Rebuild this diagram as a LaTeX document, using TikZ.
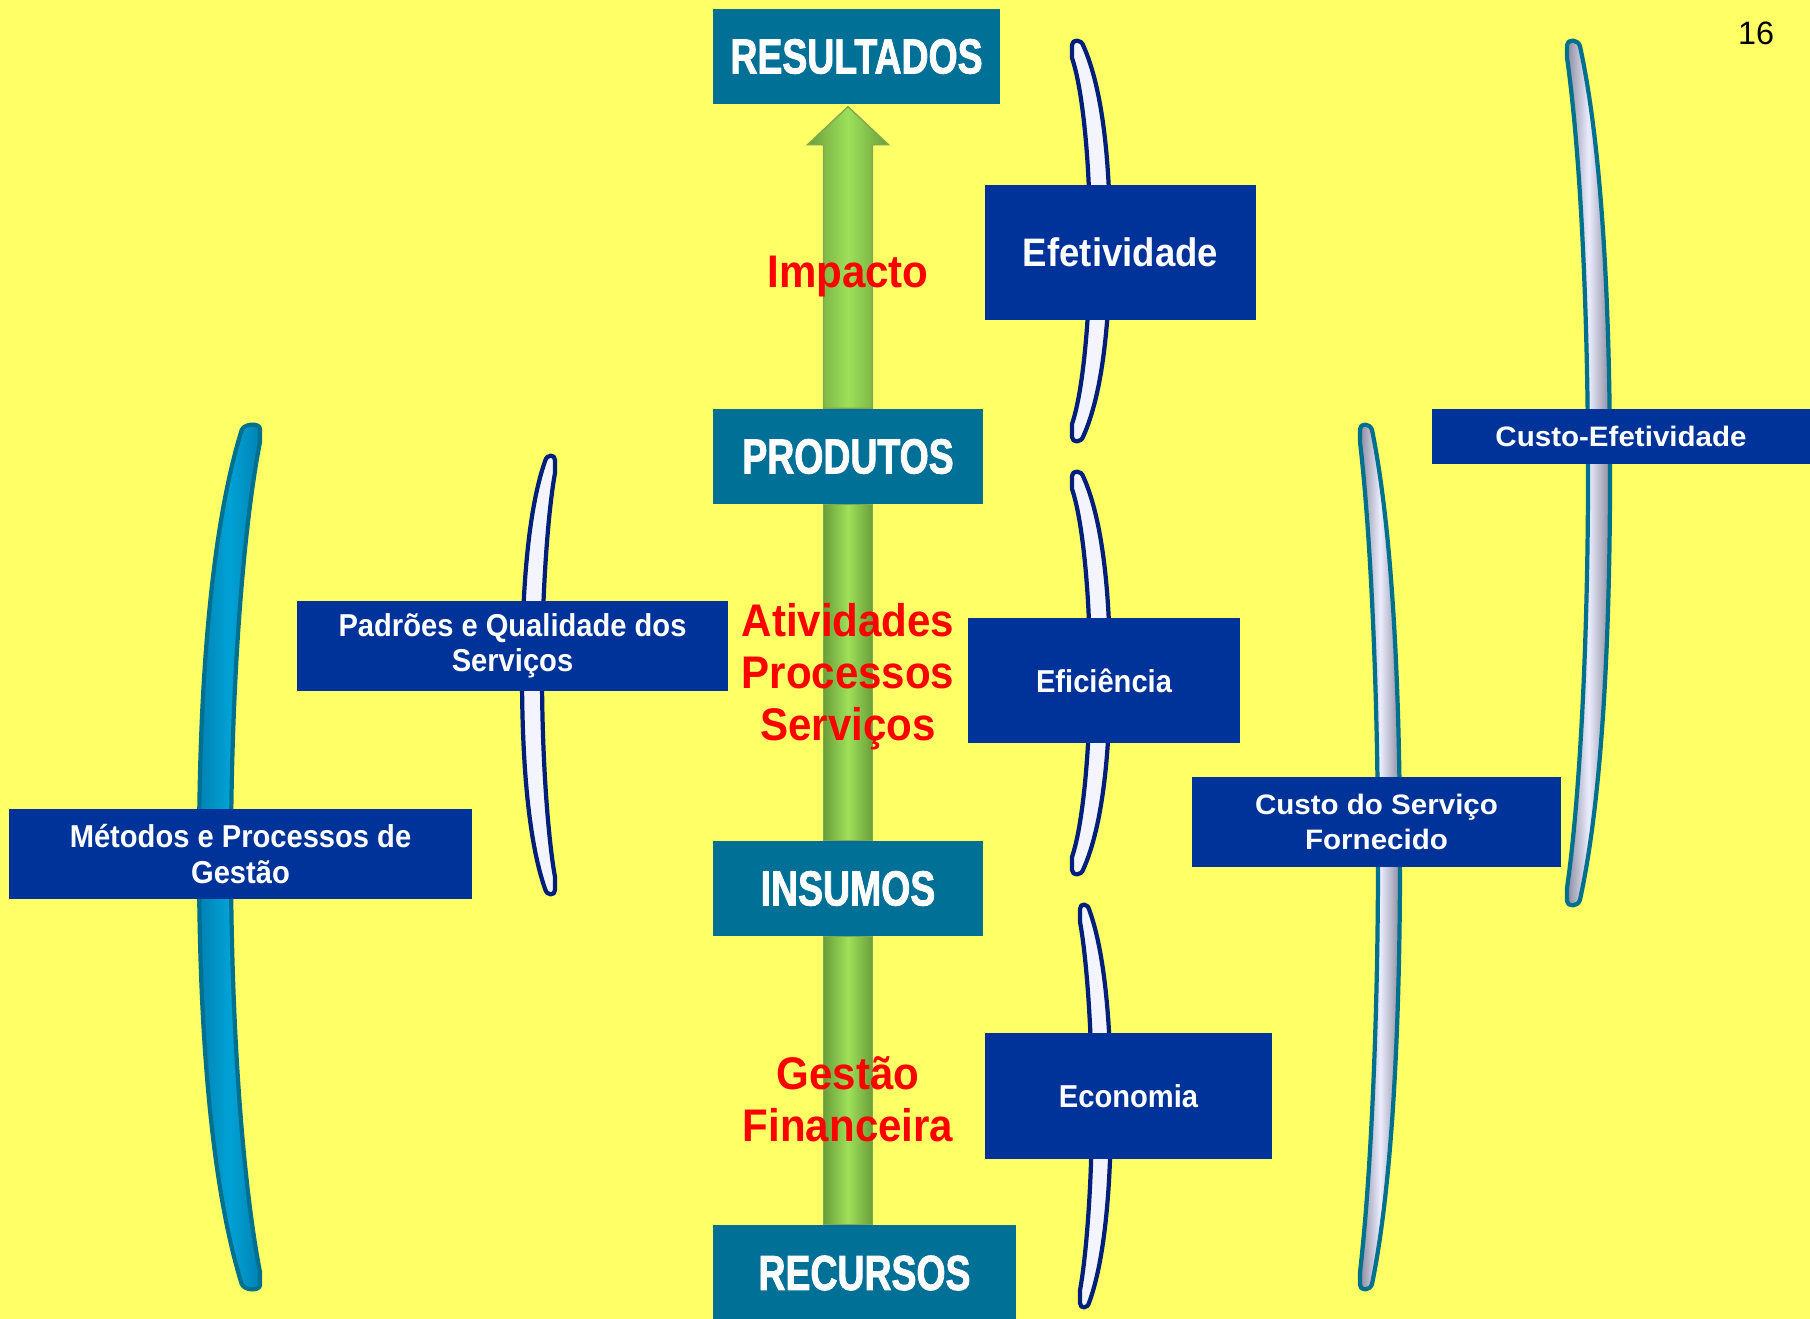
\documentclass[tikz,border=0pt]{standalone}
\usepackage{fontspec}
\setmainfont{Liberation Sans}
\newfontfamily\stagefamily[FakeStretch=0.76,FakeBold=1.6]{Liberation Sans Bold}
\newfontfamily\condfamily[FakeStretch=0.92]{Liberation Sans}
\newfontfamily\widefamily[FakeStretch=1.05]{Liberation Sans}
\usetikzlibrary{calc}
\definecolor{bgyellow}{HTML}{FFFF66}
\definecolor{stageteal}{HTML}{007096}
\definecolor{measblue}{HTML}{003399}
\definecolor{brknavy}{HTML}{001F7A}
\definecolor{brkteal}{HTML}{00708F}
\definecolor{brkfill}{HTML}{F4F4FF}
\definecolor{brkgrey}{HTML}{8C8CA0}
\definecolor{brkpale}{HTML}{ECECFF}
\definecolor{brkdeep}{HTML}{0082B4}
\definecolor{brkcyan}{HTML}{00A2D6}
\definecolor{shaftdark}{HTML}{6A9E3A}
\definecolor{shaftlight}{HTML}{9EE05A}
\definecolor{shaftedge}{HTML}{7FA850}
\tikzset{
  stage/.style={fill=stageteal,text=white,inner sep=0pt,minimum height=0.95cm,
    font=\stagefamily\fontsize{14}{16}\selectfont},
  measure/.style={fill=measblue,text=white,inner sep=0pt,align=center,
    font=\condfamily\bfseries\fontsize{9}{10}\selectfont},
  widemeasure/.style={measure,font=\widefamily\bfseries\fontsize{8}{10}\selectfont},
  flowlabel/.style={text=red,align=center,
    font=\condfamily\bfseries\fontsize{13}{14.8}\selectfont},
  shaft/.style={left color=shaftdark,right color=shaftdark,middle color=shaftlight,
    draw=shaftedge,line width=0.4pt},
  brkthin/.style={draw=brknavy,fill=brkfill,line width=1.2pt,line join=round},
  brkgray/.style={draw=brkteal,left color=brkgrey,right color=brkgrey,middle color=brkpale,
    line width=1.2pt,line join=round},
  brkblue/.style={draw=brkteal,left color=brkdeep,right color=brkdeep,middle color=brkcyan,
    line width=1.2pt,line join=round}
}
% #1 style, #2 x of the tips, #3 top, #4 bottom, #5 bulge, #6 thickness
\newcommand\crescent[6]{%
  \draw[#1] (#2,{#3+18}) -- (#2,{#3+5})
    .. controls (#2,{#3-1}) and ({#2+0.25*#5},{#3-1}) .. ({#2+0.3*#5},{#3+6})
    .. controls ({#2+0.8*#5},{#3+0.12*(#4-#3)}) and ({#2+#5},{#3+0.3*(#4-#3)}) .. ({#2+#5},{(#3+#4)/2})
    .. controls ({#2+#5},{#4-0.3*(#4-#3)}) and ({#2+0.8*#5},{#4-0.12*(#4-#3)}) .. ({#2+0.3*#5},{#4-6})
    .. controls ({#2+0.25*#5},{#4+1}) and (#2,{#4+1}) .. (#2,{#4-5})
    -- (#2,{#4-18})
    .. controls ({#2+0.8*#5-#6},{#4-0.12*(#4-#3)}) and ({#2+#5-#6},{#4-0.3*(#4-#3)}) .. ({#2+#5-#6},{(#3+#4)/2})
    .. controls ({#2+#5-#6},{#3+0.3*(#4-#3)}) and ({#2+0.8*#5-#6},{#3+0.12*(#4-#3)}) .. cycle;}
\begin{document}
\begin{tikzpicture}[x=0.01cm,y=-0.01cm]
  \fill[bgyellow] (0,0) rectangle (1810,1319);
  \useasboundingbox (0,0) rectangle (1810,1319);

  % brackets
  \crescent{brkthin}{1072}{40}{442}{38}{20}
  \crescent{brkthin}{1072}{471}{875}{38}{20}
  \crescent{brkthin}{1080}{904}{1308}{31}{19}
  \crescent{brkgray}{1360}{424}{1290}{40}{22}
  \crescent{brkgray}{1567}{40}{906}{43}{22}
  \crescent{brkthin}{555}{455}{895}{-33}{-20}
  \crescent{brkblue}{260}{424}{1290}{-61}{-32}

  % stages
  \node[stage,minimum width=2.87cm] (res) at (856.5,56.5) {RESULTADOS};
  \node[stage,minimum width=2.70cm] (prod) at (848,456.5) {PRODUTOS};
  \node[stage,minimum width=2.70cm] (ins) at (848,888.5) {INSUMOS};
  \node[stage,minimum width=3.03cm] (rec) at (864.5,1273) {RECURSOS};

  % measures
  \node[measure,minimum width=2.71cm,minimum height=1.35cm,
    font=\condfamily\bfseries\fontsize{11.3}{13}\selectfont] (efet) at (1120.5,252.5) {Efetividade};
  \node[measure,minimum width=2.72cm,minimum height=1.25cm] (efic) at (1104,680.5) {Eficiência};
  \node[measure,minimum width=2.87cm,minimum height=1.26cm] (econ) at (1128.5,1096) {Economia};
  \node[widemeasure,minimum width=3.78cm,minimum height=0.55cm] (custefet) at (1621,436.5) {Custo-Efetividade};
  \node[widemeasure,minimum width=3.69cm,minimum height=0.90cm] (custserv) at (1376.5,822) {Custo do Serviço\\Fornecido};
  \node[measure,minimum width=4.31cm,minimum height=0.90cm] (padroes) at (512.5,646) {Padrões e Qualidade dos\\Serviços};
  \node[measure,minimum width=4.63cm,minimum height=0.90cm] (metodos) at (240.5,854) {Métodos e Processos de\\Gestão};

  % green arrow
  \draw[shaft] ($(rec.north -| ins.south)+(-24.5,0)$) rectangle ($(ins.south)+(24.5,0)$);
  \draw[shaft] ($(ins.north)+(-24.5,0)$) rectangle ($(prod.south)+(24.5,0)$);
  \coordinate (tip) at ($(res.south -| prod.north)+(0,2)$);
  \draw[shaft] ($(prod.north)+(-24.5,0)$) -- ($(tip)+(-24.5,38)$) -- ($(tip)+(-40.5,38)$) -- (tip)
    -- ($(tip)+(40.5,38)$) -- ($(tip)+(24.5,38)$) -- ($(prod.north)+(24.5,0)$) -- cycle;

  % flow labels
  \node[flowlabel] (impacto) at (848,277) {Impacto};
  \node[flowlabel] (atividades) at (848,677) {Atividades\\Processos\\Serviços};
  \node[flowlabel] (gestao) at (848,1099) {Gestão\\Financeira};

  \node (pagenum) at (1756,33) {\fontsize{9.2}{11}\selectfont 16};
\end{tikzpicture}
\end{document}
